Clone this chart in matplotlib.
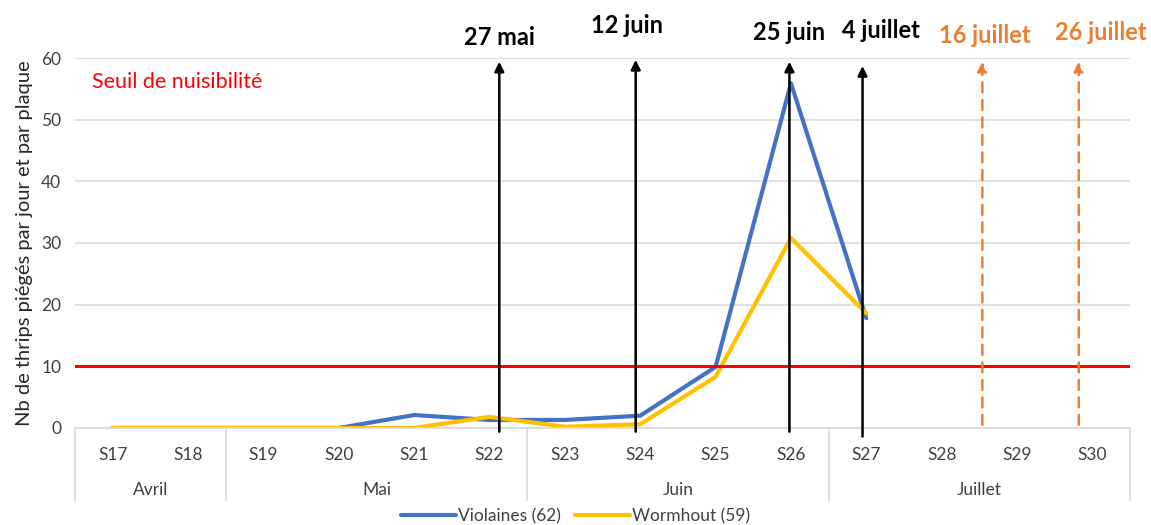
#!/usr/bin/env python3
# Piégeage thrips - courbes par semaine avec dates de traitement

import numpy as np
import matplotlib.pyplot as plt
from matplotlib.transforms import blended_transform_factory

plt.rcParams['font.family'] = ['Lato', 'DejaVu Sans']

weeks = ['S17', 'S18', 'S19', 'S20', 'S21', 'S22', 'S23',
         'S24', 'S25', 'S26', 'S27', 'S28', 'S29', 'S30']
months = ['Avril', 'Mai', 'Juin', 'Juillet']
month_spans = [(0, 1), (2, 5), (6, 9), (10, 13)]

violaines = [0, 0, 0, 0, 2.1, 1.3, 1.3, 2.0, 9.9, 55.9, 17.8]
wormhout = [0, 0, 0, 0, 0, 1.8, 0.2, 0.6, 8.3, 30.8, 18.6]

seuil = 10

# dates marquées par une flèche (position en semaines depuis S17)
dates = ['27 mai', '12 juin', '25 juin', '4 juillet', '16 juillet', '26 juillet']
date_x = [5.13, 6.94, 8.98, 9.95, 11.54, 12.82]
date_top = [59.4, 59.7, 59.4, 58.7, 59.4, 59.4]
date_bottom = [-0.6, -0.6, -0.6, -1.4, 0.5, 0.5]
label_x = [5.13, 6.83, 8.98, 10.19, 11.57, 13.11]
label_y = [63.4, 65.3, 64.2, 64.5, 63.6, 64.2]
prevues = [False, False, False, False, True, True]

BLUE = '#4472C4'
YELLOW = '#FFC000'
ORANGE = '#ED7D31'
GRID = '#D9D9D9'

fig = plt.figure(figsize=(11.51, 5.25), dpi=100)
ax = fig.add_axes([0.0652, 0.1848, 0.9166, 0.7047])

x = np.arange(len(weeks))
ax.plot(x[:len(violaines)], violaines, color=BLUE, lw=3, label='Violaines (62)',
        solid_capstyle='round')
ax.plot(x[:len(wormhout)], wormhout, color=YELLOW, lw=3, label='Wormhout (59)',
        solid_capstyle='round')

ax.axhline(seuil, color='#FF0000', lw=2.2, zorder=3)
ax.text(-0.28, 56.1, 'Seuil de nuisibilité', color='#FF0000', fontsize=15.5,
        va='center', ha='left')

for i, d in enumerate(dates):
    col = ORANGE if prevues[i] else 'black'
    ls = (0, (4, 3)) if prevues[i] else '-'
    ax.annotate('', xy=(date_x[i], date_top[i]), xytext=(date_x[i], date_bottom[i]),
                arrowprops=dict(arrowstyle='-|>', color=col, lw=1.8, linestyle=ls,
                                mutation_scale=14, shrinkA=0, shrinkB=0),
                annotation_clip=False, zorder=5)
    ax.text(label_x[i], label_y[i], d, color=col, fontsize=17, fontweight='bold',
            ha='center', va='center', clip_on=False)

ax.set_xlim(-0.5, len(weeks) - 0.5)
ax.set_ylim(0, 60)
ax.set_yticks(range(0, 61, 10))
ax.set_xticks(x)
ax.set_xticklabels(weeks)
ax.tick_params(axis='both', length=0, labelsize=12.5, colors='#404040')
ax.tick_params(axis='x', pad=14)
ax.tick_params(axis='y', pad=10)
ax.grid(axis='y', color=GRID, lw=1.2)
ax.set_axisbelow(True)
for s in ['top', 'right', 'left']:
    ax.spines[s].set_visible(False)
ax.spines['bottom'].set_color(GRID)
ax.spines['bottom'].set_linewidth(1.2)

ax.set_ylabel('Nb de thrips piégés par jour et par plaque', fontsize=14.5,
              color='#262626', labelpad=6)

# axe des mois (deuxième niveau)
trans = blended_transform_factory(ax.transData, ax.transAxes)
bounds = [-0.5] + [b + 0.5 for _, b in month_spans]
for b in bounds:
    ax.plot([b, b], [0, -0.195], transform=trans, color=GRID, lw=1.2, clip_on=False)
for m, (a, b) in zip(months, month_spans):
    ax.text((a + b) / 2, -0.168, m, transform=trans, ha='center', va='center',
            fontsize=12.5, color='#404040')

fig.legend(loc='lower center', bbox_to_anchor=(0.5, -0.028), ncol=2, frameon=False,
           fontsize=12.5, handlelength=3.2, handletextpad=0.1, columnspacing=0.8,
           labelcolor='#404040')

fig.savefig('out.png', dpi=100)
